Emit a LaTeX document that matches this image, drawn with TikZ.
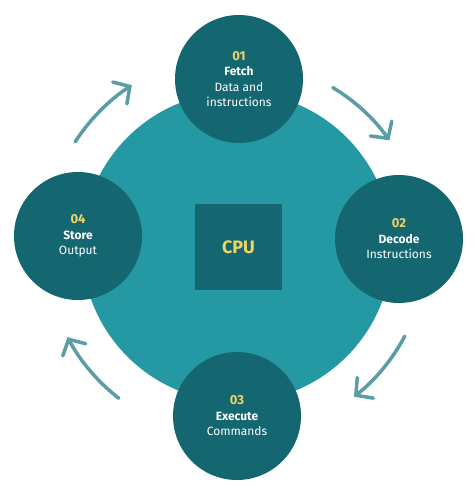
\documentclass[tikz,border=0pt]{standalone}
\usepackage{fontspec}
\setmainfont{Fira Sans}
\usetikzlibrary{arrows.meta}

\definecolor{ringteal}{HTML}{2499A3}
\definecolor{stageteal}{HTML}{146770}
\definecolor{arrowteal}{HTML}{5B9DA4}
\definecolor{numyellow}{HTML}{F0D566}

\newcommand{\stepnum}[1]{{\fontsize{13}{15}\selectfont\bfseries\color{numyellow}#1}}

\begin{document}
\begin{tikzpicture}[x=1pt, y=-1pt,
  ring/.style={circle, fill=ringteal, minimum size=310pt, inner sep=0pt},
  stage/.style={circle, fill=stageteal, minimum size=128pt, inner sep=0pt,
    text=white, align=center, font=\fontsize{12}{15.5}\selectfont},
  core/.style={fill=stageteal, minimum width=87pt, minimum height=86pt,
    inner sep=0pt, text=numyellow, font=\fontsize{18}{20}\selectfont\bfseries},
  turn/.style={arrowteal, line width=3.5pt, line cap=round,
    -{Straight Barb[length=12pt, width=26pt, line cap=round]}}]
\useasboundingbox (0,0) rectangle (474,490);

% ring and core
\coordinate (hub) at (237,247);
\node[ring] (cpuring) at (hub) {};
\node[core] (cpu) at (238.5,247) {CPU};

% the four stages
\node[stage] (fetch) at (239,79) {\stepnum{01}\\ \textbf{Fetch}\\ Data and\\ instructions};
\node[stage] (decode) at (399,239) {\stepnum{02}\\ \textbf{Decode}\\ Instructions};
\node[stage] (execute) at (237,416) {\stepnum{03}\\ \textbf{Execute}\\ Commands};
\node[stage] (store) at (78,236) {\stepnum{04}\\ \textbf{Store}\\ Output};

% arrows round the ring
\draw[turn] (hub) ++(-147:193) arc[start angle=-147, end angle=-123, radius=193];
\draw[turn] (hub) ++(-59:186) arc[start angle=-59, end angle=-35, radius=186];
\draw[turn] (hub) ++(28:190) arc[start angle=28, end angle=52, radius=190];
\draw[turn] (hub) ++(128:192) arc[start angle=128, end angle=152, radius=192];
\end{tikzpicture}
\end{document}
